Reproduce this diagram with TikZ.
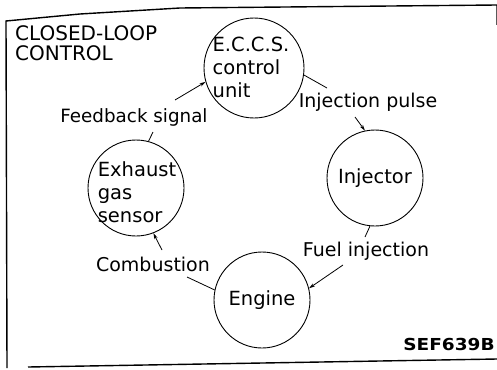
\documentclass[tikz,border=0pt]{standalone}
\usepackage{fontspec}
\setmainfont{DejaVu Sans}
\usetikzlibrary{arrows.meta,calc}
\begin{document}
\begin{tikzpicture}[x=1pt,y=-1pt,
  circ/.style={draw,circle,line width=0.9pt,minimum size=96pt,inner sep=0pt},
  ctext/.style={inner sep=0pt,align=left,font=\fontsize{19.5}{23}\selectfont},
  lbl/.style={inner sep=0pt,font=\fontsize{19}{22}\selectfont},
  conn/.style={line width=0.8pt},
  arr/.style={conn,-{Stealth[length=6pt,width=3.5pt]}},
  frm/.style={line width=1.4pt}]
\useasboundingbox (0,0) rectangle (497,369);
% frame
\draw[frm] (7,368) -- (6,21) -- (80,14) -- (180,8) -- (497,5) -- (497,25);
\draw[frm] (28,367) -- (497,359);
% title
\node[inner sep=0pt,align=left,anchor=north west,font=\fontsize{20}{20}\selectfont] (title) at (15,25) {CLOSED-LOOP\\CONTROL};
% circles
\node[circ,minimum size=100pt] (eccs) at (254,68) {};
\node[ctext] (eccsT) at (251,67) {E.C.C.S.\\control\\unit};
\node[circ] (inj) at (375,178) {};
\node[ctext] (injT) at (inj) {Injector};
\node[circ] (exh) at (136,188) {};
\node[ctext] (exhT) at (137,192) {Exhaust\\gas\\sensor};
\node[circ] (eng) at (262,300) {};
\node[ctext] (engT) at (eng) {Engine};
% labels
\node[lbl,font=\fontsize{18.3}{20}\selectfont] (fb) at (134,117) {Feedback signal};
\node[lbl] (ip) at (368,102) {Injection pulse};
\node[lbl] (fi) at (366,251) {Fuel injection};
\node[lbl] (cb) at (153,264) {Combustion};
\node[inner sep=0pt,font=\fontsize{16.5}{18}\selectfont\bfseries] (sef) at (449,344) {\scalebox{1.12}[1]{SEF639B}};
% connectors
\draw[conn] (exh.75) -- ($(fb)+(19,15)$);
\draw[arr] ($(fb)+(41,-17)$) -- (eccs.196);
\draw[conn] (eccs.352) -- ($(ip)+(-41,-14)$);
\draw[arr] ($(ip)+(-13,15)$) -- (inj.102);
\draw[conn] (inj.264) -- ($(fi)+(-1,-14)$);
\draw[arr] ($(fi)+(-23,14)$) -- (eng.14);
\draw[conn] (eng.168) -- ($(cb)+(34,13)$);
\draw[arr] ($(cb)+(9,-14)$) -- (exh.291);
\end{tikzpicture}
\end{document}
